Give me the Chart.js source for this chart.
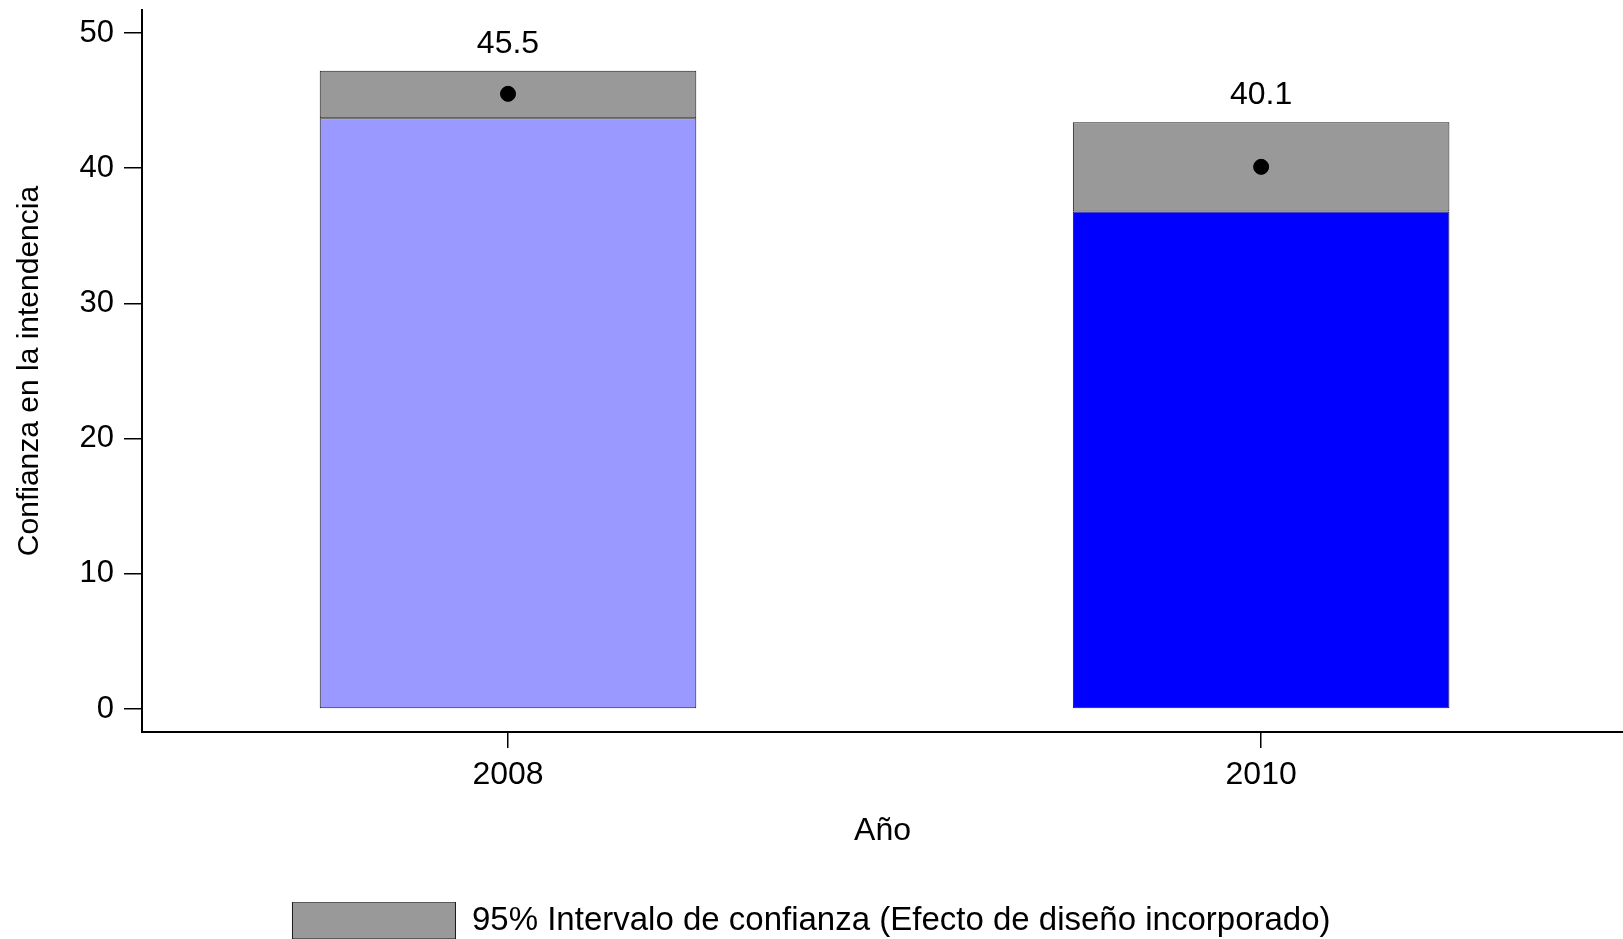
<!DOCTYPE html>
<html>
<head>
<meta charset="utf-8">
<script src="https://cdn.jsdelivr.net/npm/chart.js@4"></script>
<style>
  body { margin: 0; background: #fff; }
  #wrap { width: 1623px; height: 939px; position: relative; }
</style>
</head>
<body>
<div id="wrap"><canvas id="chart"></canvas></div>
<script>
const years = [2008, 2010];
const yearLabels = ['2008', '2010'];
const meanValues = [45.5, 40.1];
const ciLower = [43.7, 36.8];
const ciUpper = [47.2, 43.4];
const yTicks = [0, 10, 20, 30, 40, 50];

const FONT = "'Liberation Sans', Arial, sans-serif";

// labels above the CI box
const valueLabels = {
    id: 'valueLabels',
    afterDatasetsDraw(chart) {
        const ctx = chart.ctx;
        const x = chart.scales.x, y = chart.scales.y;
        ctx.save();
        ctx.font = '32px ' + FONT;
        ctx.fillStyle = '#000';
        ctx.textAlign = 'center';
        ctx.textBaseline = 'middle';
        years.forEach((yr, i) => {
            ctx.fillText(meanValues[i].toFixed(1), x.getPixelForValue(yr), y.getPixelForValue(ciUpper[i]) - 27);
        });
        ctx.restore();
    }
};

new Chart(document.getElementById('chart'), {
    type: 'bar',
    data: {
        datasets: [
            {
                label: 'Confianza',
                data: years.map((yr, i) => ({x: yr, y: ciLower[i]})),
                backgroundColor: ['#9999ff', '#0000ff'],
                borderColor: '#1a1a1a',
                borderWidth: 1,
                borderSkipped: false,
                stack: 'ci',
                barPercentage: 0.5,
                categoryPercentage: 1,
                order: 2
            },
            {
                label: '95% Intervalo de confianza (Efecto de diseño incorporado)',
                data: years.map((yr, i) => ({x: yr, y: [ciLower[i], ciUpper[i]]})),
                backgroundColor: '#999999',
                borderColor: '#1a1a1a',
                borderWidth: 1,
                borderSkipped: false,
                stack: 'ci',
                barPercentage: 0.5,
                categoryPercentage: 1,
                order: 2
            },
            {
                type: 'line',
                label: 'Media',
                data: years.map((yr, i) => ({x: yr, y: meanValues[i]})),
                showLine: false,
                pointRadius: 7.5,
                pointBackgroundColor: '#000',
                pointBorderColor: '#000',
                order: 1
            }
        ]
    },
    options: {
        responsive: true,
        maintainAspectRatio: false,
        animation: false,
        // legend adds a fixed 10px under itself, pull it back off the canvas
        layout: { autoPadding: false, padding: { top: 10, left: 0, right: 0, bottom: -10 } },
        plugins: {
            tooltip: { enabled: false },
            legend: {
                position: 'bottom',
                labels: {
                    filter: item => item.datasetIndex === 1,
                    boxWidth: 163,
                    boxHeight: 37,
                    padding: 0,
                    color: '#000',
                    font: { family: FONT, size: 33 }
                }
            }
        },
        scales: {
            x: {
                type: 'linear',
                stacked: true,
                offset: false,
                min: 2007.028,
                max: 2010.961,
                afterBuildTicks: scale => { scale.ticks = years.map(v => ({value: v})); },
                afterFit: scale => {
                    scale.height = 170;
                    scale.paddingLeft = 0;
                    scale.paddingRight = 0;
                },
                ticks: {
                    color: '#000',
                    padding: 8,
                    font: { family: FONT, size: 32 },
                    callback: v => yearLabels[years.indexOf(v)]
                },
                grid: { offset: false, drawOnChartArea: false, color: '#000', tickLength: 16, lineWidth: 1.5 },
                border: { display: true, color: '#000', width: 2 },
                title: {
                    display: true,
                    text: 'Año',
                    color: '#000',
                    font: { family: FONT, size: 32 },
                    padding: { top: 0, bottom: 52 }
                }
            },
            y: {
                stacked: false,
                min: -1.70,
                max: 51.70,
                afterBuildTicks: scale => { scale.ticks = yTicks.map(v => ({value: v})); },
                afterFit: scale => {
                    scale.width = 142;
                    scale.paddingTop = 0;
                    scale.paddingBottom = 0;
                },
                ticks: {
                    color: '#000',
                    padding: 10,
                    font: { family: FONT, size: 31 }
                },
                grid: { drawOnChartArea: false, color: '#000', tickLength: 18, lineWidth: 1.5 },
                border: { display: true, color: '#000', width: 2 },
                title: {
                    display: true,
                    text: 'Confianza en la intendencia',
                    color: '#000',
                    font: { family: FONT, size: 30 },
                    padding: { top: 12, bottom: 0 }
                }
            }
        }
    },
    plugins: [valueLabels]
});
</script>
</body>
</html>
